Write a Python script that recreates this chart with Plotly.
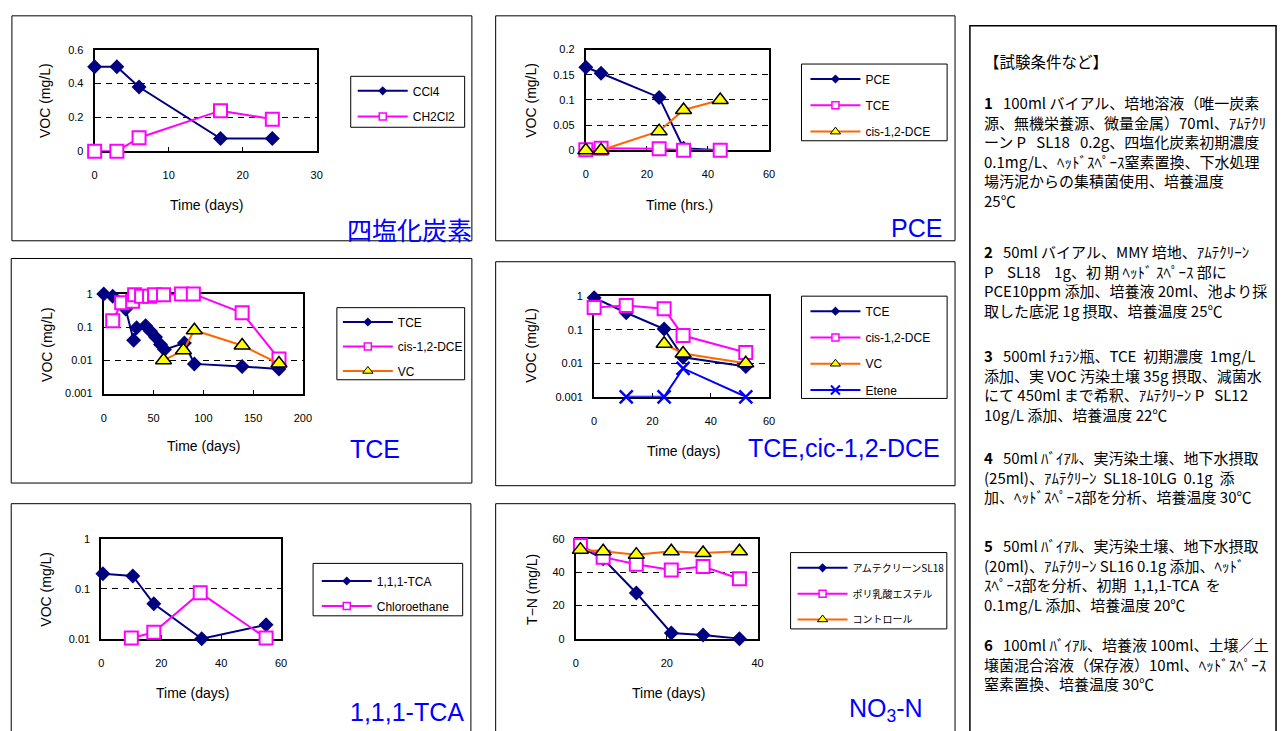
import plotly.graph_objects as go

W, H = 1288, 731

# ---------------- data ----------------
# Panel 1 : 四塩化炭素
p1_time = [0, 3, 6, 17, 24]
p1_ccl4 = [0.50, 0.50, 0.38, 0.075, 0.075]
p1_ch2cl2 = [0.0, 0.0, 0.08, 0.24, 0.19]

# Panel 2 : PCE
p2_time = [0, 5, 24, 32, 44]
p2_pce = [0.165, 0.153, 0.105, 0.004, 0.0]
p2_tce = [0.001, 0.004, 0.003, 0.0, 0.0]
p2_dce = [0.0, 0.0, 0.038, 0.080, 0.100]

# Panel 3 : TCE
p3_tce_time = [0, 9, 22, 30, 33, 42, 47, 52, 57, 61, 81, 91, 139, 176]
p3_tce = [1.0, 0.85, 0.35, 0.04, 0.095, 0.11, 0.075, 0.05, 0.03, 0.021, 0.033, 0.0078, 0.0065, 0.0055]
p3_dce_time = [9, 18, 29, 31, 38, 46, 51, 60, 78, 90, 139, 176]
p3_dce = [0.155, 0.54, 0.6, 0.95, 0.85, 0.85, 0.95, 0.95, 1.0, 1.0, 0.27, 0.011]
p3_vc_time = [60, 80, 91, 139, 176]
p3_vc = [0.010, 0.020, 0.080, 0.028, 0.008]

# Panel 4 : TCE, cis-1,2-DCE
p4_time = [0, 11, 24, 30.5, 52]
p4_tce = [0.9, 0.32, 0.105, 0.015, 0.008]
p4_dce = [0.46, 0.53, 0.42, 0.067, 0.021]
p4_vc_time = [24, 30.5, 52]
p4_vc = [0.038, 0.0195, 0.010]
p4_etene_time = [11, 24, 30.5, 52]
p4_etene = [0.001, 0.001, 0.007, 0.001]

# Panel 5 : 1,1,1-TCA
p5_tca_time = [0.5, 10.5, 17.5, 33.5, 55]
p5_tca = [0.20, 0.18, 0.05, 0.010, 0.019]
p5_ce_time = [10, 17.5, 33, 55]
p5_ce = [0.0103, 0.0135, 0.083, 0.0103]

# Panel 6 : NO3-N
p6_time = [1, 6, 13.3, 21, 28, 36]
p6_sl18 = [55, 48, 27.5, 3.5, 2.2, 0]
p6_pla = [56, 49, 44.7, 41.3, 43.3, 36]
p6_ctrl = [53.5, 52.5, 50.5, 52.5, 51.5, 52.5]

# tick labels
lin_t_30 = [0, 10, 20, 30]
lin_t_60 = [0, 20, 40, 60]
lin_t_40 = [0, 20, 40]
lin_t_200 = [0, 50, 100, 150, 200]
p1_yticks = [0, 0.2, 0.4, 0.6]
p1_ylabels = ["0", "0.2", "0.4", "0.6"]
p2_yticks = [0, 0.05, 0.1, 0.15, 0.2]
p2_ylabels = ["0", "0.05", "0.1", "0.15", "0.2"]
log3_ticks = [0.001, 0.01, 0.1, 1]
log3_labels = ["0.001", "0.01", "0.1", "1"]
log2_ticks = [0.01, 0.1, 1]
log2_labels = ["0.01", "0.1", "1"]

# text panel: paragraphs (lines, centre y of the paragraph)
S = "\u00a0"
heading = "【試験条件など】"
paragraphs = [
    ([
        "<b>1</b>" + S * 3 + "100ml バイアル、培地溶液（唯一炭素",
        "源、無機栄養源、微量金属）70ml、ｱﾑﾃｸﾘ",
        "ーン P" + S * 3 + "SL18" + S * 3 + "0.2g、四塩化炭素初期濃度",
        "0.1mg/L、ﾍｯﾄﾞｽﾍﾟｰｽ窒素置換、下水処理",
        "場汚泥からの集積菌使用、培養温度",
        "25℃",
    ], 148),
    ([
        "<b>2</b>" + S * 3 + "50ml バイアル、MMY 培地、ｱﾑﾃｸﾘｰﾝ",
        "P" + S * 4 + "SL18" + S * 4 + "1g、初" + S + "期" + S + "ﾍｯﾄﾞ" + S + "ｽﾍﾟｰｽ" + S + "部に",
        "PCE10ppm" + S + "添加、培養液" + S + "20ml、池より採",
        "取した底泥 1g 摂取、培養温度 25℃",
    ], 279.5),
    ([
        "<b>3</b>" + S * 3 + "500ml" + S + "ﾁｭﾗﾝ瓶、TCE" + S * 2 + "初期濃度" + S * 2 + "1mg/L",
        "添加、実 VOC 汚染土壌 35g 摂取、減菌水",
        "にて 450ml まで希釈、ｱﾑﾃｸﾘｰﾝ P" + S * 3 + "SL12",
        "10g/L 添加、培養温度 22℃",
    ], 385),
    ([
        "<b>4</b>" + S * 3 + "50ml" + S + "ﾊﾞｲｱﾙ、実汚染土壌、地下水摂取",
        "(25ml)、ｱﾑﾃｸﾘｰﾝ" + S * 2 + "SL18-10LG" + S * 2 + "0.1g" + S * 2 + "添",
        "加、ﾍｯﾄﾞｽﾍﾟｰｽ部を分析、培養温度 30℃",
    ], 478.5),
    ([
        "<b>5</b>" + S * 3 + "50ml" + S + "ﾊﾞｲｱﾙ、実汚染土壌、地下水摂取",
        "(20ml)、ｱﾑﾃｸﾘｰﾝ" + S + "SL16" + S + "0.1g" + S + "添加、ﾍｯﾄﾞ",
        "ｽﾍﾟｰｽ部を分析、初期" + S * 2 + "1,1,1-TCA" + S * 2 + "を",
        "0.1mg/L 添加、培養温度 20℃",
    ], 578.5),
    ([
        "<b>6</b>" + S * 3 + "100ml ﾊﾞｲｱﾙ、培養液 100ml、土壌／土",
        "壌菌混合溶液（保存液）10ml、ﾍｯﾄﾞｽﾍﾟｰｽ",
        "窒素置換、培養温度 30℃",
    ], 669),
]

# ---------------- styles ----------------
NAVY = "#000080"
MAG = "#FF00FF"
ORANGE = "#FF6600"
YEL = "#FFFF00"
BLUE = "#0000FF"
LAT = "Liberation Sans, Arial, sans-serif"
JP = "Noto Sans CJK JP, sans-serif"

STY = {
    "dia": dict(line=dict(color=NAVY, width=2),
                marker=dict(symbol="diamond", size=11.5, color=NAVY, line=dict(width=0))),
    "sq": dict(line=dict(color=MAG, width=2),
               marker=dict(symbol="square", size=13, color="white", line=dict(color=MAG, width=2))),
    "tri": dict(line=dict(color=ORANGE, width=2),
                marker=dict(symbol="triangle-up", size=14, color=YEL, line=dict(color="black", width=1.5))),
    "x": dict(line=dict(color=BLUE, width=2),
              marker=dict(symbol="x-thin", size=13, color=BLUE, line=dict(color=BLUE, width=2.5))),
}
LEG_STY = {
    "dia": dict(line=dict(color=NAVY, width=2),
                marker=dict(symbol="diamond", size=7, color=NAVY, line=dict(width=0))),
    "sq": dict(line=dict(color=MAG, width=2),
               marker=dict(symbol="square", size=7, color="white", line=dict(color=MAG, width=1.5))),
    "tri": dict(line=dict(color=ORANGE, width=2),
                marker=dict(symbol="triangle-up", size=9, color=YEL, line=dict(color="black", width=1))),
    "x": dict(line=dict(color=BLUE, width=2),
              marker=dict(symbol="x-thin", size=9, color=BLUE, line=dict(color=BLUE, width=2))),
}


def px(x):
    return x / W


def py(y):
    return 1 - y / H


fig = go.Figure()


def add(i, x, y, kind, name):
    sfx = "" if i == 1 else str(i)
    fig.add_trace(go.Scatter(
        x=x, y=y, mode="lines+markers", name=name,
        xaxis="x" + sfx, yaxis="y" + sfx, showlegend=False,
        cliponaxis=False, hoverinfo="skip", **STY[kind]))
    fig.add_trace(go.Scatter(
        x=[None], y=[None], mode="lines+markers", name=name,
        xaxis="x" + sfx, yaxis="y" + sfx, showlegend=True,
        legend="legend" + sfx, legendgroup=f"{i}-{name}",
        hoverinfo="skip", **LEG_STY[kind]))


add(1, p1_time, p1_ccl4, "dia", "CCl4")
add(1, p1_time, p1_ch2cl2, "sq", "CH2Cl2")

add(2, p2_time, p2_pce, "dia", "PCE")
add(2, p2_time, p2_tce, "sq", "TCE")
add(2, p2_time, p2_dce, "tri", "cis-1,2-DCE")

add(3, p3_tce_time, p3_tce, "dia", "TCE")
add(3, p3_dce_time, p3_dce, "sq", "cis-1,2-DCE")
add(3, p3_vc_time, p3_vc, "tri", "VC")

add(4, p4_time, p4_tce, "dia", "TCE")
add(4, p4_time, p4_dce, "sq", "cis-1,2-DCE")
add(4, p4_vc_time, p4_vc, "tri", "VC")
add(4, p4_etene_time, p4_etene, "x", "Etene")

add(5, p5_tca_time, p5_tca, "dia", "1,1,1-TCA")
add(5, p5_ce_time, p5_ce, "sq", "Chloroethane")

add(6, p6_time, p6_sl18, "dia", "アムテクリーンSL18")
add(6, p6_time, p6_pla, "sq", "ポリ乳酸エステル")
add(6, p6_time, p6_ctrl, "tri", "コントロール")

# ---------------- axes ----------------
panels = [
    dict(box=(92.5, 44.5, 316.7, 147.7), xr=[0, 30], xt=lin_t_30, yr=[0, 0.6], yt=p1_yticks, yl=p1_ylabels, log=False),
    dict(box=(588.3, 44.3, 773.3, 146.7), xr=[0, 60], xt=lin_t_60, yr=[0, 0.2], yt=p2_yticks, yl=p2_ylabels, log=False),
    dict(box=(101.7, 292.7, 302.7, 394.0), xr=[0, 200], xt=lin_t_200, yr=[-3, 0], yt=log3_ticks, yl=log3_labels, log=True),
    dict(box=(596.7, 295.0, 773.3, 397.3), xr=[0, 60], xt=lin_t_60, yr=[-3, 0], yt=log3_ticks, yl=log3_labels, log=True),
    dict(box=(99.3, 541.7, 280.7, 643.3), xr=[0, 60], xt=lin_t_60, yr=[-2, 0], yt=log2_ticks, yl=log2_labels, log=True),
    dict(box=(578.3, 541.7, 761.7, 643.3), xr=[0, 40], xt=lin_t_40, yr=[0, 60], yt=lin_t_60, yl=[str(v) for v in lin_t_60], log=False),
]

layout_axes = {}
for i, p in enumerate(panels, start=1):
    sfx = "" if i == 1 else str(i)
    x0, y0, x1, y1 = p["box"]
    common = dict(showline=True, linecolor="black", linewidth=2, mirror=True,
                  ticks="inside", ticklen=4, tickwidth=1, tickcolor="black",
                  zeroline=False, layer="below traces", fixedrange=True,
                  tickfont=dict(family=LAT, size=11, color="black"))
    layout_axes["xaxis" + sfx] = dict(
        domain=[px(x0), px(x1)], range=p["xr"], anchor="y" + sfx,
        tickvals=p["xt"], ticktext=[str(v) for v in p["xt"]],
        showgrid=False, ticklabelstandoff=13, **common)
    layout_axes["yaxis" + sfx] = dict(
        domain=[py(y1), py(y0)], range=p["yr"], anchor="x" + sfx,
        type="log" if p["log"] else "linear",
        tickvals=p["yt"], ticktext=p["yl"],
        showgrid=True, gridcolor="black", gridwidth=1, griddash="6px,5px",
        ticklabelstandoff=7, **common)

# ---------------- legends ----------------
legend_specs = [
    dict(x=353, y=71.5, gap=6.7, font=dict(family=LAT, size=12, color="black")),
    dict(x=810, y=59.5, gap=7.3, font=dict(family=LAT, size=12, color="black")),
    dict(x=338, y=306.5, gap=5.5, font=dict(family=LAT, size=12, color="black")),
    dict(x=810, y=295.5, gap=7.3, font=dict(family=LAT, size=12, color="black")),
    dict(x=316.7, y=569.8, gap=6.0, font=dict(family=LAT, size=12, color="black")),
    dict(x=797, y=556.5, gap=6.8, font=dict(family=JP, size=10, color="black")),
]
for i, L in enumerate(legend_specs, start=1):
    sfx = "" if i == 1 else str(i)
    layout_axes["legend" + sfx] = dict(
        x=px(L["x"]), y=py(L["y"]), xanchor="left", yanchor="top",
        bgcolor="rgba(0,0,0,0)", borderwidth=0, font=L["font"],
        itemwidth=50, tracegroupgap=L["gap"], traceorder="grouped",
        itemclick=False, itemdoubleclick=False)


# ---------------- frames ----------------
def rect(x0, y0, x1, y1, w=1):
    return dict(type="rect", xref="paper", yref="paper",
                x0=px(x0), x1=px(x1), y0=py(y1), y1=py(y0),
                line=dict(color="black", width=w), fillcolor="rgba(0,0,0,0)", layer="below")


shapes = [
    rect(9, 10, 473.3, 238.7), rect(497.3, 10, 961, 238.7),
    rect(8.3, 256.7, 473.3, 485), rect(497.3, 260, 961, 487.7),
    rect(8.3, 506, 472.3, 745), rect(497.3, 506, 961, 745),
    rect(976, 20, 1285, 745, w=1.5),
    rect(351, 71.5, 466, 123.3), rect(806, 59, 953, 137),
    rect(337, 306.7, 466, 380), rect(806, 295, 953, 399),
    rect(313, 566.7, 464, 620), rect(795, 555.7, 952.7, 633.3),
]

# ---------------- annotations ----------------
ann = []


def text(s, x, y, size, family=LAT, color="black", xanchor="center", angle=0):
    ann.append(dict(text=s, x=px(x), y=py(y), xref="paper", yref="paper",
                    xanchor=xanchor, yanchor="middle", align="left",
                    showarrow=False, textangle=angle,
                    font=dict(family=family, size=size, color=color)))


x_titles = [("Time (days)", 205, 202), ("Time (hrs.)", 682.5, 202), ("Time (days)", 202.5, 447.7),
            ("Time (days)", 686.7, 452.3), ("Time (days)", 191.7, 698.3), ("Time (days)", 671.7, 698.3)]
y_titles = [("VOC (mg/L)", 43, 96), ("VOC (mg/L)", 533.3, 96), ("VOC (mg/L)", 45, 344),
            ("VOC (mg/L)", 533.3, 345), ("VOC (mg/L)", 43.3, 592.5), ("T−N (mg/L)", 533.3, 593.3)]
for s, x, y in x_titles:
    text(s, x, y, 14)
for s, x, y in y_titles:
    text(s, x, y, 14, angle=-90)

text("四塩化炭素", 475, 227, 25, family=JP, color=BLUE, xanchor="right")
text("PCE", 950, 226, 25, color=BLUE, xanchor="right")
text("TCE", 348, 450, 25, color=BLUE, xanchor="left")
text("TCE,cic-1,2-DCE", 750, 449, 25, color=BLUE, xanchor="left")
text("1,1,1-TCA", 348, 718, 25, color=BLUE, xanchor="left")
text("NO<sub>3</sub>-N", 852, 716, 25, color=BLUE, xanchor="left")

text(heading, 988, 56, 15.5, family=JP, xanchor="left")
for lines, yc in paragraphs:
    text("<br>".join(lines), 988, yc, 15, family=JP, xanchor="left")

fig.update_layout(
    width=W, height=H, margin=dict(l=0, r=0, t=0, b=0),
    paper_bgcolor="white", plot_bgcolor="rgba(0,0,0,0)",
    shapes=shapes, annotations=ann, showlegend=True,
    **layout_axes,
)

fig.write_html("out.html",
               post_script="document.body.style.margin='0px';document.body.style.overflow='hidden';")
